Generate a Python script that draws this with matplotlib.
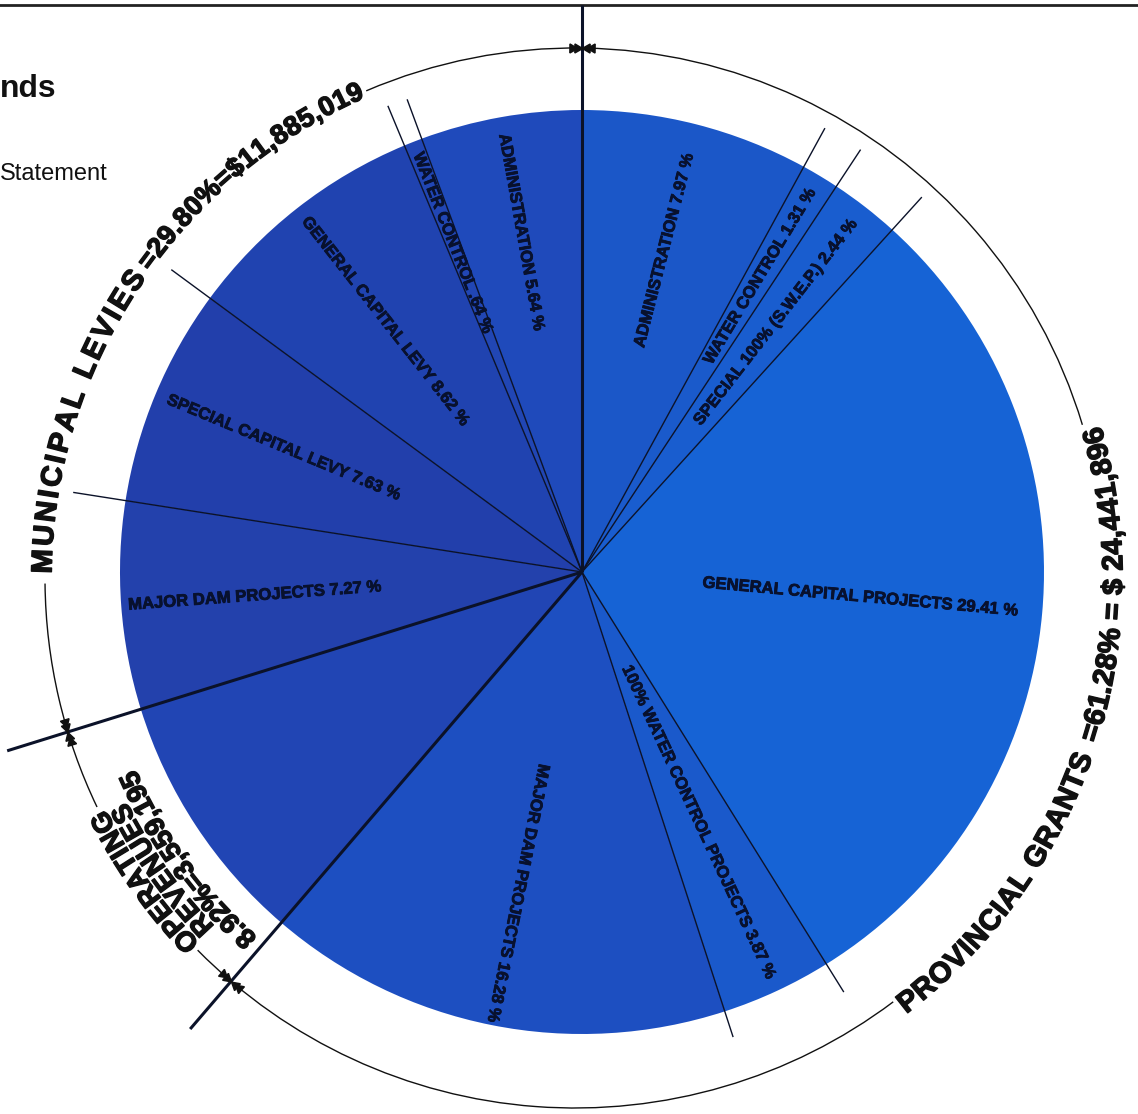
import numpy as np
import matplotlib

matplotlib.use("Agg")
import matplotlib.pyplot as plt
import matplotlib.patheffects as pe
from matplotlib.patches import Arc
from matplotlib.font_manager import FontProperties, findfont
from matplotlib.ft2font import FT2Font

W, H, DPI = 1138, 1114, 100
FONT = "Liberation Sans"

# --------------------------------------------------------------------------- #
# Data  (shares in % of total revenue)
# --------------------------------------------------------------------------- #
PROV_LABELS = [
    "ADMINISTRATION 7.97 %",
    "WATER CONTROL 1.31 %",
    "SPECIAL 100% (S.W.E.P.) 2.44 %",
    "GENERAL CAPITAL PROJECTS 29.41 %",
    "100% WATER CONTROL PROJECTS 3.87 %",
    "MAJOR DAM PROJECTS 16.28 %",
]
PROV_SHARES = [7.97, 1.31, 2.44, 29.41, 3.87, 16.28]
OPER_SHARES = [8.92]
MUNI_LABELS = [
    "MAJOR DAM PROJECTS 7.27 %",
    "SPECIAL CAPITAL LEVY 7.63 %",
    "GENERAL CAPITAL LEVY 8.62 %",
    "WATER CONTROL .64 %",
    "ADMINISTRATION 5.64 %",
]
MUNI_SHARES = [7.27, 7.63, 8.62, 0.64, 5.64]

MUNI_HEAD, MUNI_AMOUNT = "MUNICIPAL LEVIES", "=29.80%=$11,885,019"
PROV_HEAD, PROV_AMOUNT = "PROVINCIAL GRANTS", "=61.28% = $ 24,441,896"
OPER_LINES = ["OPERATING", "REVENUES", "8.92%=3,559,195"]

# --------------------------------------------------------------------------- #
# Style / geometry (pixel space, y up)
# --------------------------------------------------------------------------- #
PIE_C = (582, H - 572)
PIE_R = 462
RING_C = (575, H - 578)
RING_R = 530

PROV_COLORS = ["#1b57c8", "#1a5acb", "#195dcf", "#1663d5", "#1a59cb", "#1d4fc1"]
OPER_COLORS = ["#2145b4"]
MUNI_COLORS = ["#2341ac", "#223fab", "#2043b0", "#2146b4", "#1f4abb"]

# one entry per wedge boundary (start line first): outer length, line width
EDGE_LEN = [567, 506, 506, 506, 495, 489, 602, 602, 515, 510, 505, 504]
EDGE_LW = [2.2, 1.0, 1.0, 1.0, 1.0, 1.0, 2.2, 2.2, 1.0, 1.0, 1.0, 1.0]
PROV_LABEL_R = [232, 244, 188, 121, 104, 196]
MUNI_LABEL_R = [455, 449, 449, 450, 445]

INK = "#111111"
LABEL_INK = "#08112e"
LINE_INK = "#0b1229"
HEAVY = [pe.withStroke(linewidth=1.0, foreground=INK)]
HEAVY_LAB = [pe.withStroke(linewidth=0.6, foreground=LABEL_INK)]


def advances(s, fp):
    font = FT2Font(findfont(fp))
    font.set_size(fp.get_size_in_points(), DPI)
    return [font.load_char(ord(ch)).linearHoriAdvance / 65536 for ch in s]


def arc_text(ax, s, r, a0, a1, size, outward=True):
    """Lay s along the ring from angle a0 to a1 (degrees)."""
    fp = FontProperties(family=FONT, weight="bold", size=size)
    adv = advances(s, fp)
    span = r * np.radians(abs(a1 - a0))
    gap = (span - sum(adv)) / max(len(s) - 1, 1)
    sgn = -1 if a1 < a0 else 1
    cap = 0.72 * size * DPI / 72
    rb = r - cap / 2 if outward else r + cap / 2
    pos = 0.0
    for ch, w in zip(s, adv):
        ang = a0 + sgn * np.degrees((pos + w / 2) / r)
        rot = ang - 90 if outward else ang + 90
        if ch != " ":
            t = np.radians(ang)
            ax.text(RING_C[0] + rb * np.cos(t), RING_C[1] + rb * np.sin(t), ch,
                    fontproperties=fp, rotation=rot, rotation_mode="anchor",
                    ha="center", va="baseline", color=INK, path_effects=HEAVY)
        pos += w + gap


def ring_hit(angle):
    """Where a ray from the pie centre at `angle` meets the outer ring."""
    u = np.array([np.cos(np.radians(angle)), np.sin(np.radians(angle))])
    d = np.array(PIE_C) - np.array(RING_C)
    b = d @ u
    t = -b + np.sqrt(b * b - (d @ d - RING_R ** 2))
    p = np.array(PIE_C) + t * u
    return p, np.degrees(np.arctan2(p[1] - RING_C[1], p[0] - RING_C[0]))


def tick(ax, angle):
    p, a = ring_hit(angle)
    tang = np.array([-np.sin(np.radians(a)), np.cos(np.radians(a))])
    for side in (1, -1):
        for d in (5.0, 10.5):
            q = p + side * d * tang
            v = -side * tang
            rot = np.degrees(np.arctan2(v[1], v[0])) - 90
            ax.plot(q[0], q[1], marker=(3, 0, rot), ms=7.5, color=INK, mec=INK, zorder=6)


fig = plt.figure(figsize=(W / DPI, H / DPI), dpi=DPI)
ax = fig.add_axes([0, 0, 1, 1])

shares = PROV_SHARES + OPER_SHARES + MUNI_SHARES
colors = PROV_COLORS + OPER_COLORS + MUNI_COLORS
ax.pie(shares, startangle=90, counterclock=False, center=PIE_C, radius=PIE_R,
       colors=colors, wedgeprops=dict(linewidth=0))

# wedge boundaries
bounds = 90 - 3.6 * np.concatenate([[0], np.cumsum(shares)[:-1]])
for ang, ln, lw in zip(bounds, EDGE_LEN, EDGE_LW):
    t = np.radians(ang)
    ax.plot([PIE_C[0], PIE_C[0] + ln * np.cos(t)], [PIE_C[1], PIE_C[1] + ln * np.sin(t)],
            color=LINE_INK, lw=lw, solid_capstyle="butt", zorder=4)

# wedge labels
mids = 90 - 3.6 * (np.cumsum(shares) - np.array(shares) / 2)
n_prov = len(PROV_SHARES)
n_muni = len(MUNI_SHARES)
lab_fp = FontProperties(family=FONT, weight="bold", size=12.0)
for lab, m, r0 in zip(PROV_LABELS, mids[:n_prov], PROV_LABEL_R):
    t = np.radians(m)
    ax.text(PIE_C[0] + r0 * np.cos(t), PIE_C[1] + r0 * np.sin(t), lab, fontproperties=lab_fp,
            rotation=m, rotation_mode="anchor", ha="left", va="center", color=LABEL_INK,
            path_effects=HEAVY_LAB, zorder=5)
for lab, m, r0 in zip(MUNI_LABELS, mids[-n_muni:], MUNI_LABEL_R):
    t = np.radians(m)
    ax.text(PIE_C[0] + r0 * np.cos(t), PIE_C[1] + r0 * np.sin(t), lab, fontproperties=lab_fp,
            rotation=m - 180, rotation_mode="anchor", ha="left", va="center", color=LABEL_INK,
            path_effects=HEAVY_LAB, zorder=5)

# outer ring, broken where the group titles sit
for a1, a2 in [(16.8, 113.2), (180.6, 205.6), (224.6, 306.9)]:
    ax.add_patch(Arc(RING_C, 2 * RING_R, 2 * RING_R, theta1=a1, theta2=a2, lw=1.0, color=INK))

arc_text(ax, MUNI_HEAD, 534, 179.5, 145.0, 21, outward=True)
arc_text(ax, MUNI_AMOUNT, 534, 144.2, 113.6, 19.5, outward=True)
arc_text(ax, PROV_HEAD, 537, -52.8, -19.0, 21, outward=False)
arc_text(ax, PROV_AMOUNT, 537, -17.6, 16.2, 21, outward=False)
arc_text(ax, OPER_LINES[0], 533, 224.2, 206.2, 20, outward=True)
arc_text(ax, OPER_LINES[1], 511, 224.0, 206.5, 20, outward=True)
arc_text(ax, OPER_LINES[2], 489, 228.5, 203.5, 20, outward=True)

for b in (bounds[0], bounds[n_prov], bounds[n_prov + 1]):
    tick(ax, b)

# page furniture
ax.plot([0, W], [H - 5, H - 5], color="#222222", lw=2.0)
ax.text(0, H - 97, "nds", fontsize=23, fontweight="bold", family=FONT, color=INK,
        ha="left", va="baseline")
ax.text(0, H - 180, "Statement", fontsize=17, family=FONT, color=INK, ha="left", va="baseline")

ax.set_xlim(0, W)
ax.set_ylim(0, H)
ax.set_aspect("equal")
ax.axis("off")
fig.savefig("out.png", dpi=DPI, facecolor="white")
